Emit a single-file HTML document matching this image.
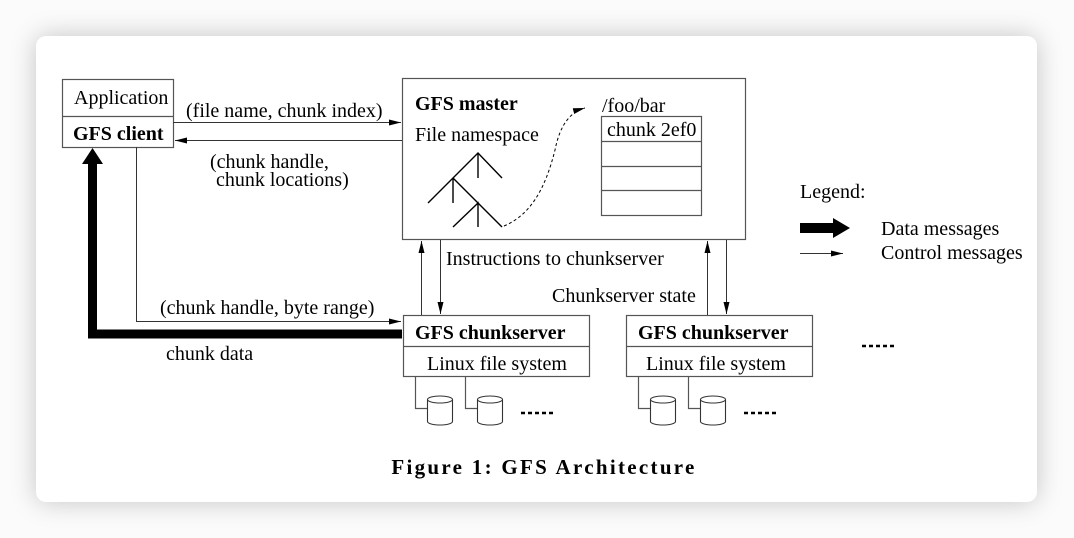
<!DOCTYPE html>
<html><head><meta charset="utf-8"><style>
html,body{margin:0;padding:0;width:1074px;height:538px;overflow:hidden;background:#fbfbfb;}
.card{position:absolute;left:36px;top:36px;width:1001px;height:466px;background:#fff;border-radius:10px;box-shadow:0 0 26px rgba(0,0,0,0.22);}
svg{position:absolute;left:0;top:0;}
text{font-family:"Liberation Serif",serif;font-size:20px;fill:#000;}
.b{font-weight:bold;}
</style></head><body>
<div class="card"></div>
<svg width="1074" height="538" viewBox="0 0 1074 538">
<defs>
<marker id="ah" markerWidth="12" markerHeight="6" refX="12" refY="3" orient="auto" markerUnits="userSpaceOnUse">
<path d="M0,0 L12,3 L0,6 Z" fill="#000"/></marker>
</defs>
<g stroke="#555" stroke-width="1.2" fill="#fff">
<rect x="62.5" y="79.5" width="111" height="68"/>
<line x1="62" y1="116.5" x2="173" y2="116.5"/>
<rect x="402.5" y="78.5" width="343" height="161"/>
<rect x="601.5" y="116.5" width="100" height="99"/>
<line x1="601" y1="141.5" x2="701" y2="141.5"/>
<line x1="601" y1="166.5" x2="701" y2="166.5"/>
<line x1="601" y1="190.5" x2="701" y2="190.5"/>
<rect x="403.5" y="315.5" width="186" height="61"/>
<line x1="403" y1="346.5" x2="589" y2="346.5"/>
<rect x="626.5" y="315.5" width="186" height="61"/>
<line x1="626" y1="346.5" x2="812" y2="346.5"/>
</g>
<g fill="none" stroke="#555" stroke-width="1.2">
<polyline points="415.5,376 415.5,408.5 427,408.5"/>
<polyline points="465.5,376 465.5,408.5 477,408.5"/>
<polyline points="638.5,376 638.5,408.5 650,408.5"/>
<polyline points="688.5,376 688.5,408.5 700,408.5"/>
</g>
<g fill="#fff" stroke="#333" stroke-width="1.1">
<path d="M427.5,399.5 v22 a12.5,3.5 0 0 0 25,0 v-22"/><ellipse cx="440" cy="399.5" rx="12.5" ry="3.5"/>
<path d="M477.5,399.5 v22 a12.5,3.5 0 0 0 25,0 v-22"/><ellipse cx="490" cy="399.5" rx="12.5" ry="3.5"/>
<path d="M650.5,399.5 v22 a12.5,3.5 0 0 0 25,0 v-22"/><ellipse cx="663" cy="399.5" rx="12.5" ry="3.5"/>
<path d="M700.5,399.5 v22 a12.5,3.5 0 0 0 25,0 v-22"/><ellipse cx="713" cy="399.5" rx="12.5" ry="3.5"/>
</g>
<g stroke="#000" stroke-width="2.5" stroke-dasharray="4,3">
<line x1="521" y1="413" x2="553" y2="413"/>
<line x1="744" y1="413" x2="776" y2="413"/>
<line x1="862" y1="346" x2="894" y2="346"/>
</g>
<g stroke="#000" stroke-width="1.4" fill="none">
<polyline points="428,203 478,153 502,178"/>
<line x1="478" y1="153" x2="478" y2="178"/>
<polyline points="453,178 502,227"/>
<line x1="453" y1="178" x2="453" y2="203"/>
<polyline points="453,227 478,203 478,227"/>
</g>
<path d="M504,226 C530,215 545,190 555,150 C560,125 570,112 585,108" fill="none" stroke="#000" stroke-width="1" stroke-dasharray="3,2.5" marker-end="url(#ah)"/>
<g stroke="#333" stroke-width="1" fill="none" marker-end="url(#ah)">
<line x1="173" y1="122.5" x2="401" y2="122.5"/>
<line x1="402" y1="140.5" x2="175" y2="140.5"/>
<polyline points="136.5,147 136.5,321.5 401,321.5"/>
<line x1="421.5" y1="315" x2="421.5" y2="241"/>
<line x1="440.5" y1="240" x2="440.5" y2="314"/>
<line x1="707.5" y1="315" x2="707.5" y2="241"/>
<line x1="726.5" y1="240" x2="726.5" y2="314"/>
<line x1="800" y1="253.5" x2="843" y2="253.5"/>
</g>
<polyline points="402,334 92.5,334 92.5,162" fill="none" stroke="#000" stroke-width="9"/>
<path d="M82,164 L92.5,148 L103,164 Z" fill="#000"/>
<rect x="800" y="223" width="34" height="10" fill="#000"/>
<path d="M833,218 L850,228 L833,238 Z" fill="#000"/>
<text x="74" y="104">Application</text>
<text x="73" y="140" class="b">GFS client</text>
<text x="186" y="117">(file name, chunk index)</text>
<text x="210" y="168">(chunk handle,</text>
<text x="216" y="186">chunk locations)</text>
<text x="415" y="110" class="b">GFS master</text>
<text x="415" y="141">File namespace</text>
<text x="602" y="112">/foo/bar</text>
<text x="607" y="136">chunk 2ef0</text>
<text x="446" y="265">Instructions to chunkserver</text>
<text x="552" y="302">Chunkserver state</text>
<text x="160" y="314">(chunk handle, byte range)</text>
<text x="166" y="360">chunk data</text>
<text x="415" y="339" class="b">GFS chunkserver</text>
<text x="427" y="370">Linux file system</text>
<text x="638" y="339" class="b">GFS chunkserver</text>
<text x="646" y="370">Linux file system</text>
<text x="800" y="198">Legend:</text>
<text x="881" y="235">Data messages</text>
<text x="881" y="259">Control messages</text>
<text x="544" y="474" text-anchor="middle" class="b" style="font-size:21px;letter-spacing:2.3px">Figure 1:  GFS Architecture</text>
</svg>
</body></html>
